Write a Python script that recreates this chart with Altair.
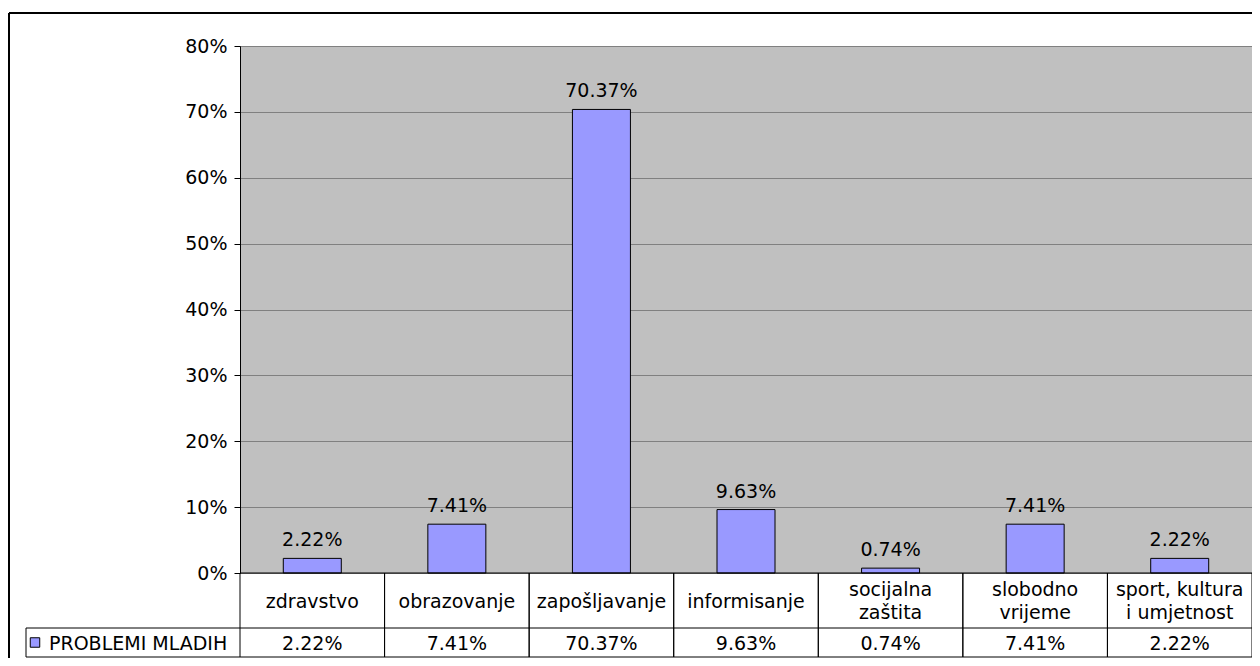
import altair as alt
import pandas as pd

categories = ["zdravstvo", "obrazovanje", "zapošljavanje", "informisanje",
              "socijalna\nzaštita", "slobodno\nvrijeme", "sport, kultura\ni umjetnost"]
values = [2.22, 7.41, 70.37, 9.63, 0.74, 7.41, 2.22]
series_name = "PROBLEMI MLADIH"
y_ticks = [0, 10, 20, 30, 40, 50, 60, 70, 80]

df = pd.DataFrame({"cat": categories, "value": values})
df["label"] = [f"{v:.2f}%" for v in values]
df["nlines"] = [c.count("\n") + 1 for c in categories]

W, H = 1012, 527
FONT = "DejaVu Sans"
FS = 19
ROW1 = H + 55
ROW2 = H + 84
LEFT = -214

xenc = alt.X("cat:N", sort=None, axis=None,
             scale=alt.Scale(paddingInner=0, paddingOuter=0))

base = alt.Chart(df)

bars = base.mark_bar(size=58, color="#9999FF", stroke="black", strokeWidth=1).encode(
    x=xenc,
    y=alt.Y("value:Q", scale=alt.Scale(domain=[0, 80]),
            axis=alt.Axis(values=y_ticks, labelExpr="datum.value + '%'", title=None,
                          grid=True, gridColor="#808080", gridWidth=1,
                          domainColor="black", tickColor="black", tickSize=6,
                          labelFont=FONT, labelFontSize=FS, labelColor="black",
                          labelPadding=7))
)

bar_labels = base.mark_text(baseline="bottom", dy=-8, font=FONT, fontSize=FS, color="black").encode(
    x=xenc, y="value:Q", text="label:N")

cat_text1 = base.transform_filter("datum.nlines == 1").mark_text(
    baseline="middle", font=FONT, fontSize=FS, color="black").encode(
    x=xenc, y=alt.value(H + 29), text="cat:N")

cat_text2 = base.transform_filter("datum.nlines > 1").mark_text(
    baseline="middle", font=FONT, fontSize=FS, color="black",
    lineBreak="\n", lineHeight=23).encode(
    x=xenc, y=alt.value(H + 17), text="cat:N")

val_text = base.mark_text(baseline="middle", font=FONT, fontSize=FS, color="black").encode(
    x=xenc, y=alt.value((ROW1 + ROW2) / 2 + 1), text="label:N")

vlines0 = base.mark_rule(color="black", strokeWidth=1).encode(
    x=alt.X("cat:N", sort=None, axis=None, bandPosition=0,
            scale=alt.Scale(paddingInner=0, paddingOuter=0)),
    y=alt.value(H), y2=alt.value(ROW2))
vlines1 = base.mark_rule(color="black", strokeWidth=1).encode(
    x=alt.X("cat:N", sort=None, axis=None, bandPosition=1,
            scale=alt.Scale(paddingInner=0, paddingOuter=0)),
    y=alt.value(H), y2=alt.value(ROW2))

deco = alt.Chart(pd.DataFrame({"a": [0]}))
xaxis_line = deco.mark_rule(color="black").encode(x=alt.value(0), x2=alt.value(W), y=alt.value(H))
row_line = deco.mark_rule(color="black").encode(x=alt.value(LEFT), x2=alt.value(W), y=alt.value(ROW1))
bottom_line = deco.mark_rule(color="black").encode(x=alt.value(LEFT), x2=alt.value(W), y=alt.value(ROW2))
left_line = deco.mark_rule(color="black").encode(x=alt.value(LEFT), y=alt.value(ROW1), y2=alt.value(ROW2))
frame_top = deco.mark_rule(color="black", strokeWidth=2).encode(x=alt.value(-231), x2=alt.value(W + 10), y=alt.value(-33))
frame_left = deco.mark_rule(color="black", strokeWidth=2).encode(x=alt.value(-231), y=alt.value(-33), y2=alt.value(ROW2 + 40))

legend_sq = deco.mark_square(size=90, fill="#9999FF", stroke="black", strokeWidth=1, opacity=1).encode(
    x=alt.value(LEFT + 9), y=alt.value((ROW1 + ROW2) / 2))
legend_txt = alt.Chart(pd.DataFrame({"t": [series_name]})).mark_text(
    align="left", baseline="middle", font=FONT, fontSize=FS, color="black").encode(
    x=alt.value(LEFT + 23), y=alt.value((ROW1 + ROW2) / 2 + 1), text="t:N")

chart = alt.layer(
    bars, bar_labels, xaxis_line, cat_text1, cat_text2, val_text, vlines0, vlines1,
    row_line, bottom_line, left_line, frame_top, frame_left, legend_sq, legend_txt
).properties(
    width=W, height=H,
    autosize=alt.AutoSizeParams(type="none"),
    padding={"left": 232, "top": 38, "right": 0, "bottom": 85},
    background="white",
).configure_view(fill="#C0C0C0", stroke="#808080", strokeWidth=1)

chart.save("out.html", embed_options={"renderer": "svg", "actions": False})
